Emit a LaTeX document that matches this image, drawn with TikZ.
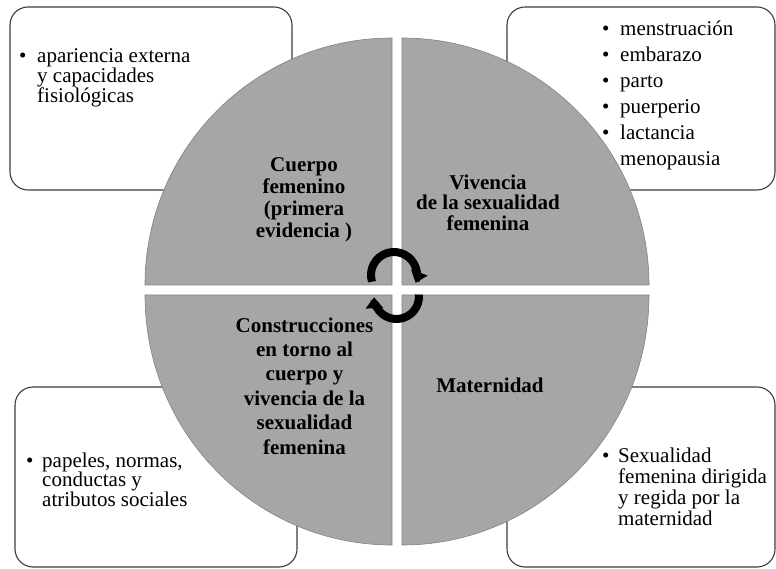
\documentclass[tikz,border=0pt]{standalone}
\usepackage{fontspec}
\setmainfont{Liberation Serif}
\usetikzlibrary{arrows.meta}
\definecolor{piegray}{RGB}{166,166,166}
\definecolor{pieline}{RGB}{130,130,130}
\definecolor{boxline}{RGB}{60,60,60}
\newcommand{\bul}[1][18pt]{\makebox[#1][l]{\textbullet}}
\newcommand{\ind}[1][18pt]{\hspace*{#1}}
\newcommand{\tp}{\rule{0pt}{16pt}}
\begin{document}
\begin{tikzpicture}[x=1pt,y=1pt,
	infobox/.style={draw=boxline,line width=1.1pt,fill=white,rounded corners=18pt},
	quarter/.style={fill=piegray,draw=pieline,line width=0.6pt},
	listtext/.style={anchor=north west,inner sep=0pt,align=left,font=\fontsize{21}{#1}\selectfont},
	listtext/.default=21,
	boldtext/.style={inner sep=0pt,align=center,font=\fontsize{21}{#1}\selectfont\bfseries},
	boldtext/.default=22,
	cycarrow/.style={line width=8pt,-{Triangle[width=17pt,length=11pt]}}]
	\useasboundingbox (0,0) rectangle (776,568);

	\draw[infobox] (10,378) rectangle (292,561);
	\draw[infobox] (507,378) rectangle (775,561);
	\draw[infobox] (15,1) rectangle (297,181);
	\draw[infobox] (507,1) rectangle (775,181);

	\draw[quarter] (392,283) -- (145,283) arc[start angle=180,end angle=90,radius=247] -- cycle;
	\draw[quarter] (402,283) -- (402,530) arc[start angle=90,end angle=0,radius=247] -- cycle;
	\draw[quarter] (392,273) -- (392,23) arc[start angle=270,end angle=180,x radius=247,y radius=250] -- cycle;
	\draw[quarter] (402,273) -- (649,273) arc[start angle=0,end angle=-90,x radius=247,y radius=250] -- cycle;

	\node[listtext=20] (apariencia) at (19,522) {\tp\bul apariencia externa\\\ind y capacidades\\\ind fisiológicas};
	\node[listtext=26] (vivencias) at (602,549) {\tp\bul menstruación\\\bul embarazo\\\bul parto\\\bul puerperio\\\bul lactancia\\\ind menopausia};
	\node[listtext=19.5] (papeles) at (26,117) {\tp\bul[16pt]papeles, normas,\\\ind[16pt]conductas y\\\ind[16pt]atributos sociales};
	\node[listtext=21] (regida) at (602,122) {\tp\bul[16pt]Sexualidad\\\ind[16pt]femenina dirigida\\\ind[16pt]y regida por la\\\ind[16pt]maternidad};

	\node[boldtext=22] (cuerpo) at (304,368) {Cuerpo\\femenino\\(primera\\evidencia )};
	\node[boldtext=20.5] (vivencia) at (488,365.5) {Vivencia\\de la sexualidad\\femenina};
	\node[boldtext=24.4] (construcciones) at (304.5,182) {Construcciones\\en torno al\\cuerpo y\\vivencia de la\\sexualidad\\femenina};
	\node[boldtext] (maternidad) at (490,183) {Maternidad};

	\coordinate (cycU) at (394,293);
	\coordinate (cycD) at (396.5,271.5);
	\draw[cycarrow] ([shift={(197:23)}]cycU) arc[start angle=197,end angle=-20,radius=23];
	\draw[cycarrow] ([shift={(5:22.5)}]cycD) arc[start angle=5,end angle=-178,radius=22.5];
\end{tikzpicture}
\end{document}
